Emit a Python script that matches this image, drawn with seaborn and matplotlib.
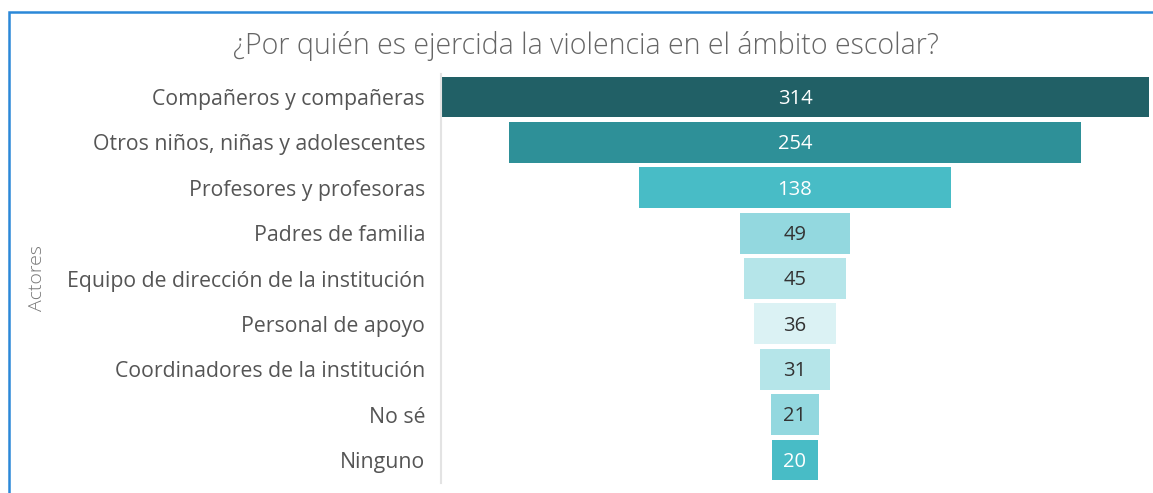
import matplotlib
matplotlib.use("Agg")
import matplotlib.pyplot as plt
import seaborn as sns
import pandas as pd
from matplotlib.patches import Rectangle

actores = [
    "Compañeros y compañeras",
    "Otros niños, niñas y adolescentes",
    "Profesores y profesoras",
    "Padres de familia",
    "Equipo de dirección de la institución",
    "Personal de apoyo",
    "Coordinadores de la institución",
    "No sé",
    "Ninguno",
]
conteos = [314, 254, 138, 49, 45, 36, 31, 21, 20]
colores = ["#216066", "#2E9098", "#48BCC6", "#93D8DF", "#B5E5E9",
           "#DBF2F4", "#B5E5E9", "#93D8DF", "#48BCC6"]
color_texto = ["white", "white", "white", "#333333", "#333333",
               "#333333", "#333333", "#333333", "white"]

df = pd.DataFrame({"Actores": actores, "Conteo": conteos})

sns.set_theme(style="white")
plt.rcParams["font.family"] = ["Open Sans", "DejaVu Sans"]

W, H = 1153, 493
fig = plt.figure(figsize=(W / 100, H / 100), dpi=100)
ax = fig.add_axes([441 / W, (H - 482.7) / H, 708 / W, 408.4 / H])

sns.barplot(data=df, x="Conteo", y="Actores", hue="Actores",
            palette=colores, orient="h", width=0.9, legend=False,
            saturation=1, ax=ax)

# center each bar to make the funnel shape
for p, v, tc in zip(ax.patches, conteos, color_texto):
    p.set_x(-p.get_width() / 2)
    p.set_linewidth(0)
    ax.text(0, p.get_y() + p.get_height() / 2 + 0.04, str(v), ha="center",
            va="center", color=tc, fontsize=14.5)

ax.set_xlim(-157, 157)
ax.set_ylim(8.5, -0.5)
ax.set_xticks([])
ax.set_xlabel("")
ax.set_ylabel("Actores", color="#777777", fontsize=14, fontweight="light")
ax.yaxis.set_label_coords((46 - 441) / 708, 0.5)
ax.tick_params(axis="y", length=0, pad=11.5, labelsize=15.3, labelcolor="#555555")
for s in ["top", "right", "bottom"]:
    ax.spines[s].set_visible(False)
ax.spines["left"].set_color("#E3E3E3")
ax.spines["left"].set_linewidth(1.5)

fig.text(586 / W, 1 - 46 / H, "¿Por quién es ejercida la violencia en el ámbito escolar?",
         ha="center", va="center", fontsize=20.6, color="#666666", fontweight="light")

# blue frame of the visual
fig.patches.append(Rectangle((8.5 / W, -0.1), 1.2, 1 - 11.5 / H + 0.1,
                             transform=fig.transFigure, fill=False,
                             edgecolor="#2B88D8", linewidth=1.8))

fig.savefig("out.png", dpi=100)
